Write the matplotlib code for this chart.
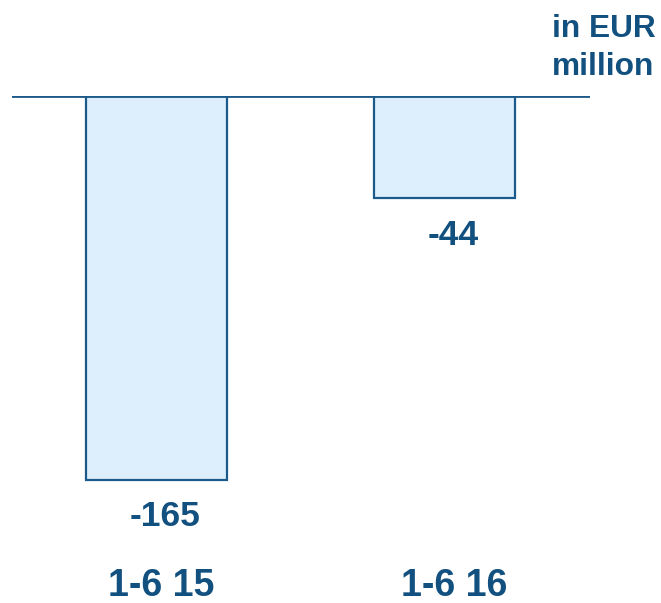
import matplotlib
matplotlib.use("Agg")
import matplotlib.pyplot as plt
import matplotlib.transforms as mtransforms

categories = ["1-6 15", "1-6 16"]
values = [-165, -44]
unit_label = "in EUR\nmillion"

plt.rcParams['font.family'] = ['Liberation Sans', 'DejaVu Sans']
text_color = "#12507F"
fill_color = "#DDEFFC"
edge_color = "#1B5A8A"

W, H = 661, 603
fig = plt.figure(figsize=(W / 100, H / 100), dpi=100)
left_px, right_px, top_px, bottom_px = 12, 590, 96, 560
ax = fig.add_axes([left_px / W, 1 - bottom_px / H, (right_px - left_px) / W, (bottom_px - top_px) / H])

x = list(range(len(categories)))
ax.bar(x, values, width=0.49, color=fill_color, edgecolor=edge_color, linewidth=1.6, zorder=2)
ax.axhline(0, color=edge_color, linewidth=2, zorder=3)

ax.set_xlim(-0.504, 1.506)
scale = 2.327
ax.set_ylim(-(bottom_px - top_px) / scale, 0)

for xi, v in zip(x, values):
    ax.annotate(f"{v}", xy=(xi, v), xytext=(6.2, -26.5), textcoords="offset points",
                ha="center", va="center", fontsize=25.5, fontweight="bold", color=text_color)

trans = mtransforms.blended_transform_factory(ax.transData, fig.transFigure)
for xi, c in zip(x, categories):
    ax.annotate(c, xy=(xi, 1 - 586 / H), xycoords=trans, xytext=(3 + 4 * xi, 0),
                textcoords="offset points", ha="center", va="center",
                fontsize=27, fontweight="bold", color=text_color, annotation_clip=False)

ax.set_xticks([])
ax.set_yticks([])
for s in ax.spines.values():
    s.set_visible(False)

fig.text(552 / W, 1 - 14 / H, unit_label, ha="left", va="top", fontsize=22.8,
         fontweight="bold", color=text_color, linespacing=1.34)

fig.savefig("out.png", dpi=100)
